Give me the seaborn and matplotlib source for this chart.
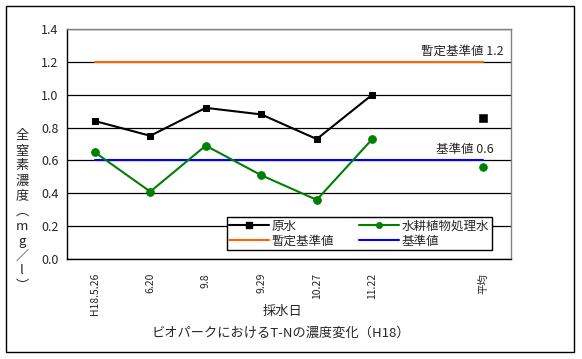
import matplotlib
matplotlib.use("Agg")
import matplotlib.pyplot as plt
import seaborn as sns
import pandas as pd
from matplotlib.lines import Line2D
from matplotlib.patches import Rectangle

# sampling dates (blank slot before the average)
dates = ["H18.5.26", "6.20", "9.8", "9.29", "10.27", "11.22", "", "平均"]
raw = [0.84, 0.75, 0.92, 0.88, 0.73, 1.00]
raw_avg = 0.86
hydro = [0.65, 0.41, 0.69, 0.51, 0.36, 0.73]
hydro_avg = 0.56
provisional_std = 1.2
std = 0.6

sns.set_style("white")
plt.rcParams["font.family"] = ["Noto Sans CJK JP", "DejaVu Sans"]
plt.rcParams["font.size"] = 9

pos = list(range(len(dates)))
df = pd.DataFrame({"pos": pos[:6], "raw": raw, "hydro": hydro})

fig = plt.figure(figsize=(5.82, 3.59), dpi=100)
ax = fig.add_axes([67 / 582, 100 / 359, 444 / 582, 230 / 359])

# standard lines across all slots
sns.lineplot(x=[pos[0], pos[-1]], y=[provisional_std] * 2, color="#FF6600", lw=1.5, ax=ax)
sns.lineplot(x=[pos[0], pos[-1]], y=[std] * 2, color="#0000FF", lw=1.5, ax=ax)

sns.lineplot(data=df, x="pos", y="raw", color="black", lw=1.5, marker="s",
             markersize=5, markeredgecolor="black", ax=ax)
sns.lineplot(data=df, x="pos", y="hydro", color="#008000", lw=1.5, marker="o",
             markersize=5.5, markeredgecolor="#008000", ax=ax)
sns.scatterplot(x=[pos[-1]], y=[raw_avg], color="black", marker="s", s=28,
                edgecolor="black", ax=ax)
sns.scatterplot(x=[pos[-1]], y=[hydro_avg], color="#008000", marker="o", s=32,
                edgecolor="#008000", ax=ax)

ax.set_xlim(-0.5, len(dates) - 0.5)
ax.set_ylim(0, 1.4)
ax.set_yticks([0, 0.2, 0.4, 0.6, 0.8, 1.0, 1.2, 1.4])
ax.set_yticklabels([f"{v:.1f}" for v in ax.get_yticks()], fontsize=9)
ax.yaxis.grid(True, color="black", lw=0.9)
ax.set_axisbelow(True)
ax.tick_params(axis="y", length=0, pad=6)

ax.set_xticks(pos)
ax.set_xticklabels(dates, rotation=90, va="top", fontsize=7.5)
ax.set_xticks([p - 0.5 for p in pos] + [pos[-1] + 0.5], minor=True)
ax.tick_params(axis="x", which="major", length=0, pad=10)
ax.tick_params(axis="x", which="minor", direction="in", length=4, color="black", width=0.9)
ax.set_xlabel("")
ax.set_ylabel("")

for s in ["left", "bottom"]:
    ax.spines[s].set_color("black")
    ax.spines[s].set_linewidth(1)
for s in ["top", "right"]:
    ax.spines[s].set_color("#808080")
    ax.spines[s].set_linewidth(1)

ax.text(7.36, provisional_std + 0.025, "暫定基準値 1.2", ha="right", va="bottom", fontsize=9)
ax.text(7.19, std + 0.025, "基準値 0.6", ha="right", va="bottom", fontsize=9)

handles = [
    Line2D([], [], color="black", lw=1.5, marker="s", markersize=5),
    Line2D([], [], color="#FF6600", lw=1.5),
    Line2D([], [], color="#008000", lw=1.5, marker="o", markersize=4),
    Line2D([], [], color="#0000FF", lw=1.5),
]
labels = ["原水", "暫定基準値", "水耕植物処理水", "基準値"]
leg = ax.legend(handles, labels, ncol=2, loc="lower left",
                bbox_to_anchor=(0.36, 0.039, 0.597, 0.165), mode="expand",
                frameon=True, fancybox=False, framealpha=1, borderpad=0.2,
                handlelength=3.2, handletextpad=0.2, labelspacing=0.15,
                columnspacing=1.0, borderaxespad=0, fontsize=9)
leg.get_frame().set_edgecolor("black")
leg.get_frame().set_linewidth(1)

fig.text(22 / 582, 148 / 359, "\n".join("全窒素濃度︵mg／l︶"), ha="center", va="center",
         fontsize=9.5, linespacing=1.2)
fig.text(283 / 582, 1 - 311 / 359, "採水日", ha="center", va="center", fontsize=9.5)
fig.text(281 / 582, 1 - 333 / 359, "ビオパークにおけるT-Nの濃度変化（H18）", ha="center",
         va="center", fontsize=9.5)

fig.patches.append(Rectangle((6 / 582, 1 - 352 / 359), 568 / 582, 346 / 359,
                             transform=fig.transFigure, fill=False, edgecolor="black", lw=1))

fig.savefig("out.png", dpi=100)
